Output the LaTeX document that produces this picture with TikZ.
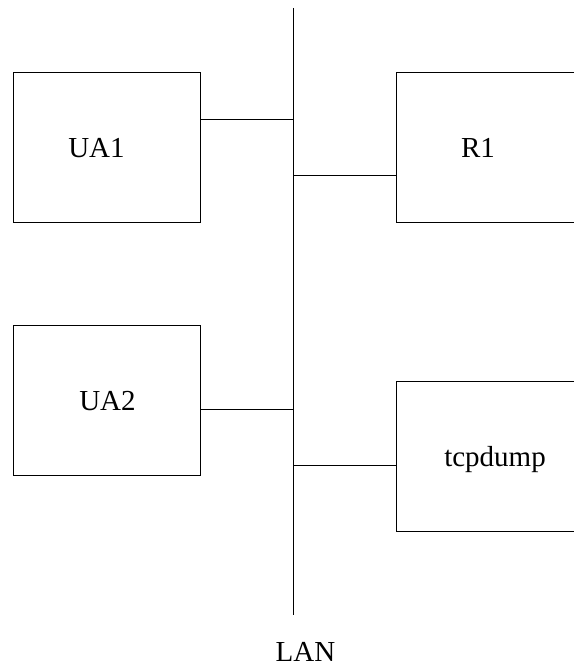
\documentclass[tikz,border=0pt]{standalone}
\usepackage{fontspec}
\setmainfont{Liberation Serif}
\tikzset{box/.style={draw=black,line width=0.75pt,inner sep=0,outer sep=0,anchor=north west,minimum width=187.2pt,minimum height=149.4pt},
lbl/.style={font=\fontsize{29}{34}\selectfont,text=black,inner sep=0,anchor=base},
wire/.style={draw=black,line width=0.75pt}}
\begin{document}
\begin{tikzpicture}[x=1pt,y=-1pt]
\useasboundingbox (0,0) rectangle (574,666);
\coordinate (lanT) at (293.5,8);
\coordinate (lanB) at (293.5,615);
\draw[wire] (lanT) -- (lanB);
% boxes
\node[box] (ua1) at (13,72.7) {};
\node[box] (ua2) at (13,325.6) {};
\coordinate (r1a) at (574,72.7); \coordinate (r1b) at (396.5,72.7); \coordinate (r1c) at (396.5,222.1); \coordinate (r1d) at (574,222.1);
\draw[wire] (r1a) -- (r1b) -- (r1c) -- (r1d);
\coordinate (t1a) at (574,381.7); \coordinate (t1b) at (396.5,381.7); \coordinate (t1c) at (396.5,531.3); \coordinate (t1d) at (574,531.3);
\draw[wire] (t1a) -- (t1b) -- (t1c) -- (t1d);
% connectors
\coordinate (j1) at (293.5,119.6);
\draw[wire] (ua1.east |- j1) -- (j1);
\coordinate (j2) at (293.5,175.6); \coordinate (a2) at (396.5,175.6);
\draw[wire] (j2) -- (a2);
\coordinate (j3) at (293.5,409.6);
\draw[wire] (ua2.east |- j3) -- (j3);
\coordinate (j4) at (293.5,465.8); \coordinate (a4) at (396.5,465.8);
\draw[wire] (j4) -- (a4);
% labels
\node[lbl] (t1) at (96.5,157.3) {UA1};
\node[lbl] (t2) at (107.5,410) {UA2};
\node[lbl] (t3) at (478,157.3) {R1};
\node[lbl] (t4) at (495,466) {tcpdump};
\node[lbl] (t5) at (305.5,661.5) {LAN};
\end{tikzpicture}
\end{document}
